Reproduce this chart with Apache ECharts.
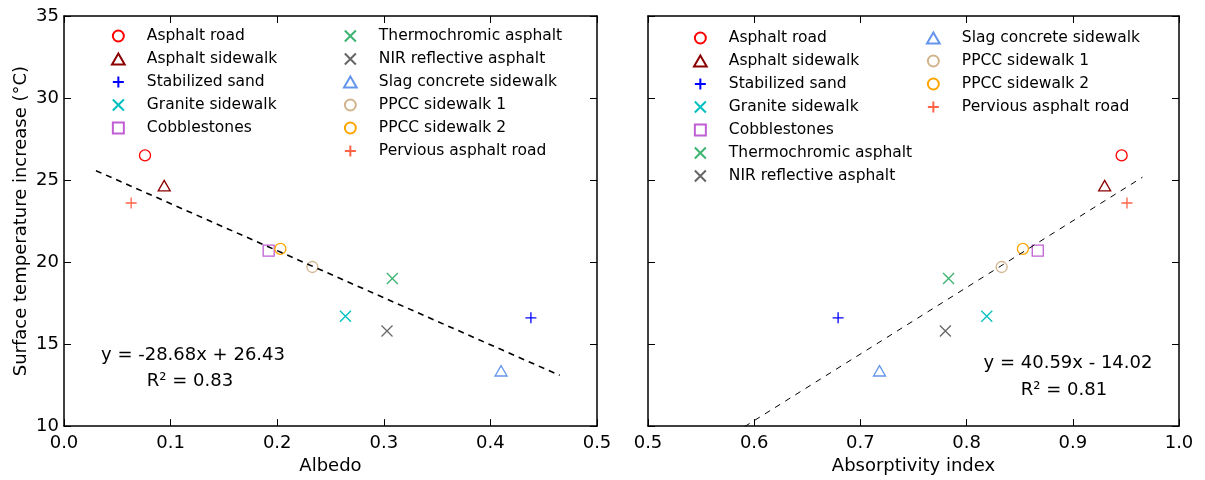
<!DOCTYPE html>
<html>
<head>
<meta charset="utf-8">
<script src="https://cdn.jsdelivr.net/npm/echarts@6/dist/echarts.min.js"></script>
<style>
  html, body { margin: 0; padding: 0; background: #fff; }
  #chart { width: 1205px; height: 480px; }
</style>
</head>
<body>
<div id="chart"></div>
<script>
// data
const materials = [
  "Asphalt road", "Asphalt sidewalk", "Stabilized sand", "Granite sidewalk",
  "Cobblestones", "Thermochromic asphalt", "NIR reflective asphalt",
  "Slag concrete sidewalk", "PPCC sidewalk 1", "PPCC sidewalk 2",
  "Pervious asphalt road"
];
const albedo = [0.076, 0.094, 0.438, 0.264, 0.192, 0.308, 0.303, 0.410, 0.233, 0.203, 0.063];
const absorptivity = [0.946, 0.930, 0.679, 0.819, 0.867, 0.783, 0.780, 0.718, 0.833, 0.853, 0.951];
const tempIncrease = [26.5, 24.66, 16.6, 16.7, 20.7, 19.0, 15.8, 13.37, 19.7, 20.8, 23.6];

// fitted lines shown on the figure
const fitAlbedo = { slope: -28.68, intercept: 26.43, r2: 0.83, from: 0.03, to: 0.465 };
const fitAbsorb = { slope: 40.59, intercept: -14.02, r2: 0.81, from: 0.5909, to: 0.9656 };

const yTicks = [10, 35, 5];

// marker styles
const PLUS = "path://M0,5L10,5M5,0L5,10";
const CROSS = "path://M0,0L10,10M0,10L10,0";
const SQUARE = "path://M0,0L10,0L10,10L0,10Z";
const TRI = "path://M5,0L10,8.66L0,8.66Z";
const symbols = ["circle", TRI, PLUS, CROSS, SQUARE, CROSS, CROSS, TRI, "circle", "circle", PLUS];
const colors = ["#ff0000", "#8b0000", "#0000ff", "#00c0c0", "#bf5fd3", "#3cb371",
  "#666666", "#6495ed", "#d2b48c", "#ffa500", "#ff6347"];

const FONT = "DejaVu Sans";

function fitLine(f) {
  return [[f.from, f.slope * f.from + f.intercept], [f.to, f.slope * f.to + f.intercept]];
}

function xAxisFor(grid, min, max, name) {
  return [
    {
      type: "value", gridIndex: grid, position: "bottom", min: min, max: max, interval: 0.1,
      name: name, nameLocation: "middle", nameGap: 27,
      nameTextStyle: { fontFamily: FONT, fontSize: 18, color: "#000" },
      axisLine: { onZero: false, lineStyle: { color: "#000", width: 1.5 } },
      axisTick: { inside: true, length: 7, lineStyle: { color: "#000" } },
      axisLabel: { margin: 8, fontFamily: FONT, fontSize: 18, color: "#000",
        formatter: v => v.toFixed(1) },
      splitLine: { show: false }
    },
    {
      type: "value", gridIndex: grid, position: "top", min: min, max: max, interval: 0.1,
      axisLine: { onZero: false, lineStyle: { color: "#000", width: 1.5 } },
      axisTick: { inside: true, length: 7, lineStyle: { color: "#000" } },
      axisLabel: { show: false },
      splitLine: { show: false }
    }
  ];
}

function yAxisFor(grid, showLabels) {
  return [
    {
      type: "value", gridIndex: grid, position: "left", min: yTicks[0], max: yTicks[1], interval: yTicks[2],
      name: showLabels ? "Surface temperature increase (°C)" : "",
      nameLocation: "middle", nameGap: 34,
      nameTextStyle: { fontFamily: FONT, fontSize: 18, color: "#000" },
      axisLine: { onZero: false, lineStyle: { color: "#000", width: 1.5 } },
      axisTick: { inside: true, length: 7, lineStyle: { color: "#000" } },
      axisLabel: { show: showLabels, margin: 5, fontFamily: FONT, fontSize: 18, color: "#000" },
      splitLine: { show: false }
    },
    {
      type: "value", gridIndex: grid, position: "right", min: yTicks[0], max: yTicks[1], interval: yTicks[2],
      axisLine: { onZero: false, lineStyle: { color: "#000", width: 1.5 } },
      axisTick: { inside: true, length: 7, lineStyle: { color: "#000" } },
      axisLabel: { show: false },
      splitLine: { show: false }
    }
  ];
}

let series = [];
materials.forEach((name, i) => {
  const style = {
    symbol: symbols[i],
    symbolKeepAspect: true,
    symbolSize: symbols[i] === TRI ? 12 : 11,
    itemStyle: { color: "transparent", borderColor: colors[i], borderWidth: 1.3, opacity: 1 }
  };
  series.push(Object.assign({
    name: name, type: "scatter", xAxisIndex: 0, yAxisIndex: 0,
    data: [[albedo[i], tempIncrease[i]]]
  }, style));
  series.push(Object.assign({
    name: name, type: "scatter", xAxisIndex: 2, yAxisIndex: 2,
    data: [[absorptivity[i], tempIncrease[i]]]
  }, style));
});

series.push({
  type: "line", xAxisIndex: 0, yAxisIndex: 0, data: fitLine(fitAlbedo),
  symbol: "none", silent: true,
  lineStyle: { color: "#000", width: 1.6, type: [6, 5] }
});
series.push({
  type: "line", xAxisIndex: 2, yAxisIndex: 2, data: fitLine(fitAbsorb),
  symbol: "none", silent: true,
  lineStyle: { color: "#000", width: 1, type: [6, 6] }
});

function legendFor(names, left, top) {
  return {
    data: names, orient: "vertical", left: left, top: top,
    itemWidth: 47, itemHeight: 11, itemGap: 7, selectedMode: false,
    symbolKeepAspect: true,
    textStyle: { fontFamily: FONT, fontSize: 15.5, color: "#000", lineHeight: 15 }
  };
}

function fmt(n) {
  return Math.abs(n).toFixed(2);
}

const textStyle = { font: "18px '" + FONT + "'", fill: "#000", textAlign: "center", textVerticalAlign: "middle" };

const option = {
  animation: false,
  backgroundColor: "#fff",
  grid: [
    { left: 64, top: 16, width: 533, height: 413 },
    { left: 648, top: 16, width: 531, height: 413 }
  ],
  xAxis: xAxisFor(0, 0, 0.5, "Albedo").concat(xAxisFor(1, 0.5, 1.0, "Absorptivity index")),
  yAxis: yAxisFor(0, true).concat(yAxisFor(1, false)),
  legend: [
    legendFor(materials.slice(0, 5), 106, 23),
    legendFor(materials.slice(5), 338, 23),
    legendFor(materials.slice(0, 7), 688, 25),
    legendFor(materials.slice(7), 921, 25)
  ],
  graphic: [
    {
      type: "text", x: 193, y: 355,
      style: Object.assign({ text: "y = -" + fmt(fitAlbedo.slope) + "x + " + fmt(fitAlbedo.intercept) }, textStyle)
    },
    {
      type: "text", x: 190, y: 381,
      style: Object.assign({ text: "R² = " + fitAlbedo.r2.toFixed(2) }, textStyle)
    },
    {
      type: "text", x: 1068, y: 363,
      style: Object.assign({ text: "y = " + fmt(fitAbsorb.slope) + "x - " + fmt(fitAbsorb.intercept) }, textStyle)
    },
    {
      type: "text", x: 1064, y: 390,
      style: Object.assign({ text: "R² = " + fitAbsorb.r2.toFixed(2) }, textStyle)
    }
  ],
  series: series
};

const chart = echarts.init(document.getElementById("chart"));
chart.setOption(option);
</script>
</body>
</html>
